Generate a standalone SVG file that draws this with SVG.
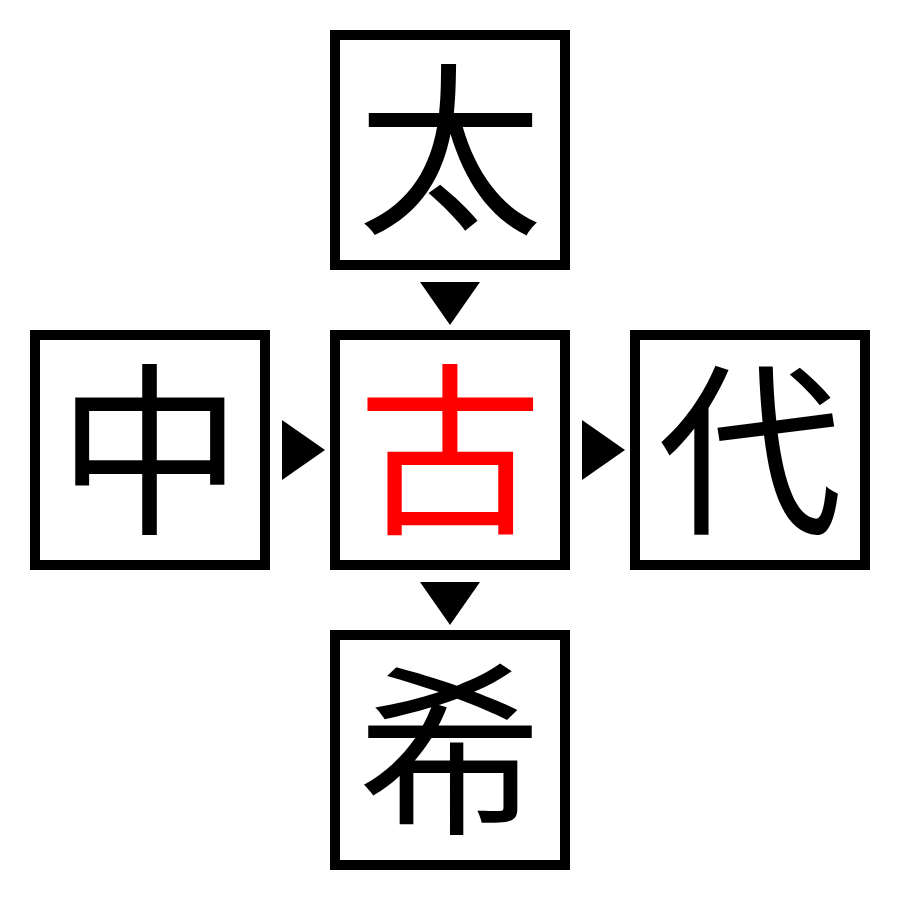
<svg xmlns="http://www.w3.org/2000/svg" width="900" height="900" viewBox="0 0 900 900">
<style>
.box{fill:#fff;stroke:#000;stroke-width:10}
.ch{font-family:"Noto Sans CJK JP","Noto Sans CJK SC",sans-serif;font-size:185px;text-anchor:middle;fill:#000}
.arr{fill:#000}
</style>
<rect width="900" height="900" fill="#fff"/>
<g id="connectors">
<polygon class="arr" points="420,282 480,282 450,325"/>
<polygon class="arr" points="420,582 480,582 450,625"/>
<polygon class="arr" points="282,420 325,450 282,480"/>
<polygon class="arr" points="582,420 625,450 582,480"/>
</g>
<g id="node-top"><rect class="box" x="335" y="35" width="230" height="230"/><text class="ch" x="450" y="220">太</text></g>
<g id="node-left"><rect class="box" x="35" y="335" width="230" height="230"/><text class="ch" x="150" y="520">中</text></g>
<g id="node-center"><rect class="box" x="335" y="335" width="230" height="230"/><text class="ch" x="450" y="520" style="fill:#f00">古</text></g>
<g id="node-right"><rect class="box" x="635" y="335" width="230" height="230"/><text class="ch" x="750" y="520">代</text></g>
<g id="node-bottom"><rect class="box" x="335" y="635" width="230" height="230"/><text class="ch" x="450" y="820">希</text></g>
</svg>
